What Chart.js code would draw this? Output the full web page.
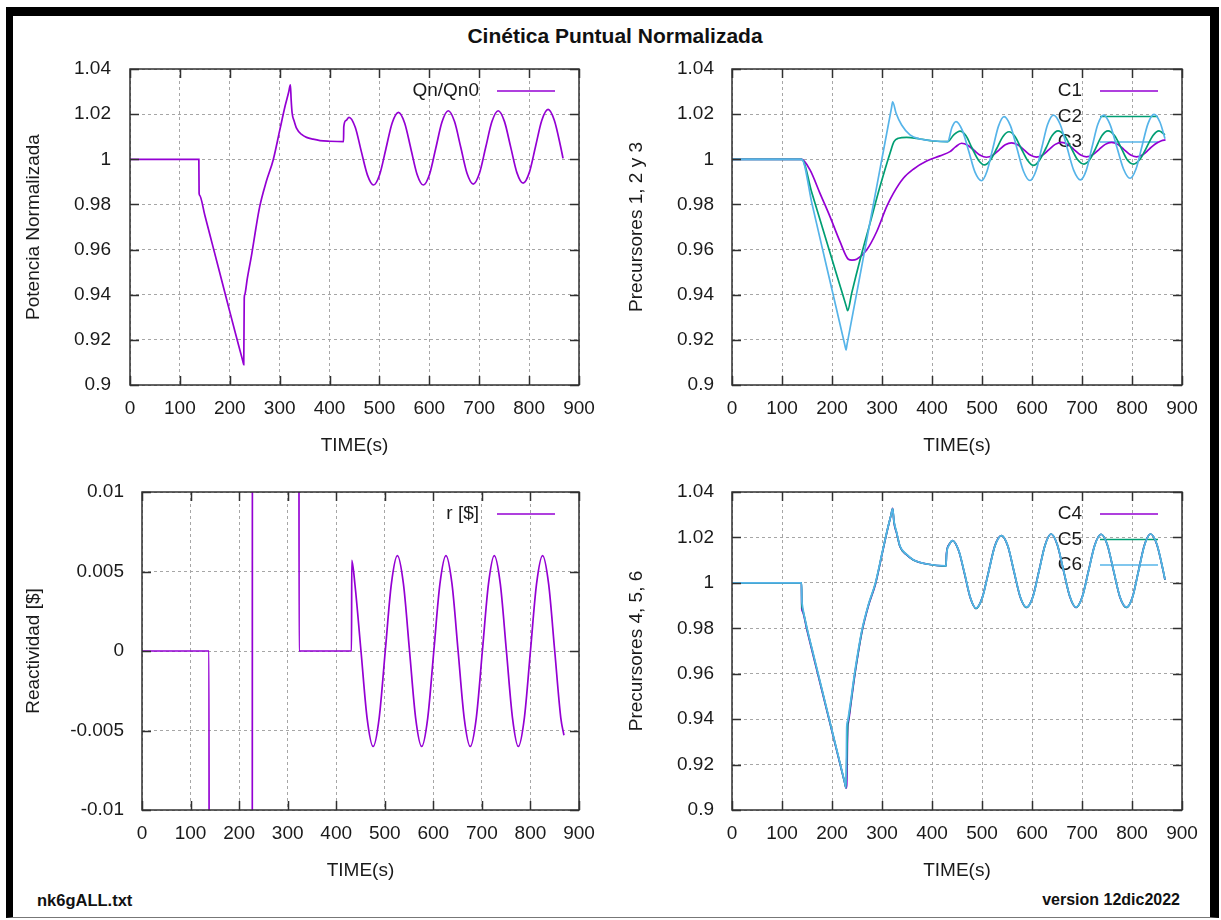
<!DOCTYPE html>
<html>
<head>
<meta charset="utf-8">
<title>Cinética Puntual Normalizada</title>
<script src="https://cdn.jsdelivr.net/npm/chart.js@4.4.1/dist/chart.umd.min.js"></script>
<style>
  body { margin: 0; background: #fff; font-family: "Liberation Sans", Arial, sans-serif; }
  #page { position: relative; width: 1221px; height: 920px; overflow: hidden; background: #fff; }
  #frame { position: absolute; left: 6px; top: 7px; width: 1197px; height: 901px;
           border-top: 9px solid #000; border-left: 7px solid #000; border-right: 9px solid #000; border-bottom: 1px solid #777; }
  .txt { position: absolute; color: #111; white-space: nowrap; }
  #title { left: 0; width: 1230px; top: 25px; text-align: center; font-size: 21px; font-weight: bold; line-height: 22px; }
  #fileName { left: 37px; top: 890px; font-size: 16.5px; font-weight: bold; line-height: 20px; }
  #version { right: 41px; top: 890px; font-size: 16px; font-weight: bold; line-height: 20px; }
  canvas { position: absolute; }
</style>
</head>
<body>
<div id="page">
  <div id="frame"></div>
  <div class="txt" id="title">Cinética Puntual Normalizada</div>
  <canvas id="power" width="596" height="410" style="left:14px;top:55px"></canvas>
  <canvas id="prec123" width="596" height="410" style="left:614px;top:55px"></canvas>
  <canvas id="react" width="596" height="412" style="left:14px;top:478px"></canvas>
  <canvas id="prec456" width="596" height="412" style="left:614px;top:478px"></canvas>
  <div class="txt" id="fileName">nk6gALL.txt</div>
  <div class="txt" id="version">version 12dic2022</div>
</div>
<script>
// --- data (time in s) ---
const qnTime = [0, 138, 138.5, 139.5, 150, 165, 180, 195, 210, 226, 228, 229, 230, 235, 244, 252, 260, 273, 287, 300, 311, 318, 321.5, 323, 325, 329, 334, 344, 354, 367, 381, 400, 428, 428.5, 433, 439, 451.5, 463.5, 476, 488, 500.5, 513, 525.5, 538, 550.5, 563, 575.5, 588, 600.5, 613, 625.5, 638, 650.5, 663, 675.5, 688, 700.5, 713, 725.5, 738, 750.5, 763, 775.5, 788, 800.5, 813, 825.5, 838, 850.5, 863, 868];
const qnValue = [1, 1, 0.985, 0.9841, 0.9752, 0.9624, 0.9496, 0.9368, 0.924, 0.9107, 0.909, 0.9385, 0.94, 0.947, 0.958, 0.969, 0.979, 0.990, 0.9997, 1.0127, 1.0237, 1.0297, 1.033, 1.0265, 1.0205, 1.017, 1.0137, 1.011, 1.0097, 1.0089, 1.0083, 1.008, 1.0078, 1.0144, 1.0172, 1.0186, 1.0142, 1.0036, 0.993, 0.9886, 0.9933, 1.0047, 1.0161, 1.0208, 1.0161, 1.0047, 0.9933, 0.9886, 0.9934, 1.005, 1.0166, 1.0215, 1.0167, 1.0053, 0.9938, 0.989, 0.9938, 1.0053, 1.0167, 1.0215, 1.0168, 1.0055, 0.9941, 0.9894, 0.9942, 1.0058, 1.0173, 1.0221, 1.0173, 1.0058, 1.0004];

const c1Time = [0, 139.3, 156, 176, 196, 216, 232.7, 240, 249.3, 269.3, 289.3, 309.3, 322.7, 342.7, 362.7, 389.3, 416, 436, 447, 459, 471.5, 484, 496.5, 509, 521.5, 534, 546.5, 559, 571.5, 584, 596.5, 609, 621.5, 634, 646.5, 659, 671.5, 684, 696.5, 709, 721.5, 734, 746.5, 759, 771.5, 784, 796.5, 809, 821.5, 834, 846.5, 859, 867];
const c1Value = [1, 1, 0.9953, 0.9849, 0.9746, 0.9635, 0.9557, 0.9553, 0.9557, 0.9598, 0.9679, 0.979, 0.9849, 0.9916, 0.9956, 0.9992, 1.0015, 1.0034, 1.0055, 1.0071, 1.0062, 1.004, 1.0018, 1.0009, 1.0018, 1.0041, 1.0064, 1.0073, 1.0064, 1.0042, 1.0019, 1.001, 1.0019, 1.0043, 1.0066, 1.0075, 1.0066, 1.0043, 1.002, 1.0011, 1.002, 1.0043, 1.0066, 1.0075, 1.0066, 1.0043, 1.002, 1.0011, 1.002, 1.0044, 1.0068, 1.0082, 1.0086];

const c2Time = [0, 139.3, 160, 180, 200, 215, 229, 231.3, 239.3, 256, 276, 296, 316, 324, 332.7, 349.3, 376, 402.7, 431.3, 443, 456, 468, 480, 493, 505, 517, 530, 542, 554, 566, 578, 591, 603, 615, 628, 640, 652, 665, 678, 691, 704, 716, 728, 740, 752, 765, 778, 790, 803, 816, 829, 842, 854, 866];
const c2Value = [1, 1, 0.9849, 0.9703, 0.9557, 0.9448, 0.9345, 0.9329, 0.9406, 0.9554, 0.9716, 0.9879, 1.0027, 1.0078, 1.0093, 1.0097, 1.009, 1.0081, 1.0078, 1.0107, 1.0125, 1.0104, 1.005, 0.9996, 0.9975, 0.9997, 1.005, 1.0101, 1.0122, 1.0101, 1.005, 0.9996, 0.9973, 0.9996, 1.005, 1.0104, 1.0126, 1.0105, 1.0052, 0.9999, 0.9979, 1.0, 1.0052, 1.0105, 1.0126, 1.0105, 1.0052, 0.9999, 0.9979, 1.0, 1.0052, 1.0105, 1.0126, 1.0108];

const c3Time = [0, 139.3, 160, 180, 200, 226, 228, 230, 250, 275, 300, 319, 321.3, 328, 339.3, 356, 376, 402.7, 431.3, 440, 448, 460.5, 473.5, 486, 499, 510, 521.5, 533, 544, 557, 570, 583, 596, 608, 619.5, 631, 643, 656.5, 670, 683.5, 697, 708.5, 720, 731.5, 743, 756, 769.5, 783, 796, 808, 820, 832, 844, 856, 866];
const c3Value = [1, 1, 0.9803, 0.9612, 0.9422, 0.9174, 0.9155, 0.9179, 0.9414, 0.9709, 1.0004, 1.0228, 1.0255, 1.0205, 1.0152, 1.0108, 1.009, 1.0082, 1.0078, 1.0142, 1.0167, 1.0129, 1.0036, 0.9943, 0.9905, 0.9947, 1.0047, 1.0147, 1.0189, 1.0148, 1.0048, 0.9947, 0.9906, 0.9949, 1.0051, 1.0153, 1.0196, 1.0154, 1.0053, 0.9951, 0.9909, 0.9951, 1.0053, 1.0154, 1.0196, 1.0155, 1.0056, 0.9957, 0.9916, 0.9957, 1.0058, 1.0158, 1.0199, 1.0164, 1.0091];

// reactivity in dollars; the 138-323 s ramp values run off the axis range
const rTime = [0, 138, 138.5, 227, 227.5, 323, 323.5, 431.5, 432, 438.5, 451, 463.5, 476, 488.5, 501, 513.5, 526, 538.5, 551, 563.5, 576, 588.5, 601, 613.5, 626, 638.5, 651, 663.5, 676, 688.5, 701, 713.5, 725.5, 738, 750.5, 763, 775, 787.5, 800, 812.5, 825, 837.5, 850, 862.5, 869];
const rValue = [0, 0, -0.03, -0.03, 0.03, 0.03, 0, 0, 0.0057, 0.0042, 0, -0.0042, -0.006, -0.0042, 0, 0.0042, 0.006, 0.0042, 0, -0.0042, -0.006, -0.0042, 0, 0.0042, 0.006, 0.0042, 0, -0.0042, -0.006, -0.0042, 0, 0.0042, 0.006, 0.0042, 0, -0.0042, -0.006, -0.0042, 0, 0.0042, 0.006, 0.0042, 0, -0.0042, -0.0053];

const t456 = [0, 139, 139.5, 140.5, 150, 165, 180, 195, 210, 226, 228, 229.5, 231.5, 232.5, 238, 244, 252, 260, 273, 287, 300, 311, 318, 321.3, 324, 329.3, 336, 349.3, 362.7, 389.3, 428, 429, 434, 441, 453.5, 465, 476.5, 488, 500.5, 513, 526, 539, 551.5, 564, 576.5, 589, 601.5, 614, 626, 638, 650.5, 663, 675.5, 688, 700.5, 713, 725.5, 738, 750.5, 763, 776, 789, 801, 813, 825, 837, 849.5, 862, 866];
const c4Value = [1, 1, 0.9885, 0.9876, 0.9791, 0.9657, 0.9524, 0.939, 0.9256, 0.9114, 0.9096, 0.911, 0.9367, 0.9383, 0.947, 0.957, 0.9685, 0.9785, 0.99, 0.9995, 1.0125, 1.0235, 1.0298, 1.0328, 1.0265, 1.0218, 1.0159, 1.0123, 1.0101, 1.0083, 1.0074, 1.013, 1.0168, 1.0186, 1.014, 1.004, 0.9935, 0.9888, 0.9935, 1.0048, 1.0165, 1.0208, 1.0162, 1.0049, 0.9937, 0.9892, 0.9938, 1.0053, 1.0166, 1.0215, 1.0168, 1.0054, 0.994, 0.9892, 0.9939, 1.0053, 1.0167, 1.0214, 1.0168, 1.0054, 0.9936, 0.9892, 0.9938, 1.0053, 1.0168, 1.0215, 1.017, 1.0056, 1.0013];
const c5Value = [1, 1, 0.9905, 0.9888, 0.9797, 0.9662, 0.9528, 0.9393, 0.9259, 0.9115, 0.9097, 0.922, 0.9378, 0.9393, 0.9478, 0.9576, 0.969, 0.9789, 0.9903, 0.9998, 1.0127, 1.0236, 1.0298, 1.0327, 1.0268, 1.022, 1.016, 1.0124, 1.0101, 1.0083, 1.0074, 1.0126, 1.0167, 1.0186, 1.0141, 1.0042, 0.9936, 0.9888, 0.9934, 1.0047, 1.0164, 1.0208, 1.0163, 1.005, 0.9938, 0.9892, 0.9937, 1.0052, 1.0165, 1.0215, 1.0169, 1.0055, 0.9941, 0.9892, 0.9938, 1.0052, 1.0166, 1.0214, 1.0169, 1.0055, 0.9937, 0.9892, 0.9937, 1.0052, 1.0167, 1.0215, 1.0171, 1.0057, 1.0014];
const c6Value = [1, 1, 0.993, 0.9905, 0.9802, 0.9666, 0.9531, 0.9396, 0.9261, 0.9117, 0.9098, 0.9367, 0.9392, 0.9407, 0.9488, 0.9585, 0.9697, 0.9794, 0.9906, 1.0001, 1.0129, 1.0237, 1.0298, 1.0326, 1.0272, 1.0222, 1.0162, 1.0125, 1.0102, 1.0083, 1.0075, 1.0122, 1.0165, 1.0186, 1.0142, 1.0044, 0.9937, 0.9889, 0.9933, 1.0046, 1.0163, 1.0208, 1.0164, 1.0051, 0.9939, 0.9893, 0.9936, 1.0051, 1.0164, 1.0215, 1.017, 1.0056, 0.9942, 0.9893, 0.9937, 1.0051, 1.0165, 1.0214, 1.017, 1.0056, 0.9938, 0.9893, 0.9936, 1.0051, 1.0166, 1.0215, 1.0172, 1.0058, 1.0015];

const PURPLE = '#9400d3', GREEN = '#009e73', CYAN = '#56b4e9';
const TEXT = '#1a1a1a';
const TICK_LEN = 9;

Chart.defaults.font.family = '"Liberation Sans", Arial, sans-serif';
Chart.defaults.font.size = 19;
Chart.defaults.color = TEXT;

// box border + inward ticks on all four sides
const borderTicks = {
  id: 'borderTicks',
  afterDatasetsDraw(chart) {
    const { ctx, chartArea: a, scales: { x, y } } = chart;
    ctx.save();
    ctx.strokeStyle = '#303030';
    ctx.lineWidth = 1.5;
    ctx.beginPath();
    x.ticks.forEach(t => {
      const px = Math.round(x.getPixelForValue(t.value)) + 0.5;
      ctx.moveTo(px, a.bottom); ctx.lineTo(px, a.bottom - TICK_LEN);
      ctx.moveTo(px, a.top); ctx.lineTo(px, a.top + TICK_LEN);
    });
    y.ticks.forEach(t => {
      const py = Math.round(y.getPixelForValue(t.value)) + 0.5;
      ctx.moveTo(a.left, py); ctx.lineTo(a.left + TICK_LEN, py);
      ctx.moveTo(a.right, py); ctx.lineTo(a.right - TICK_LEN, py);
    });
    ctx.stroke();
    ctx.strokeRect(a.left, a.top, a.right - a.left, a.bottom - a.top);
    ctx.restore();
  }
};

// key in the top right corner: label text, then a line sample
const cornerKey = {
  id: 'cornerKey',
  beforeDatasetsDraw(chart) {
    const { ctx, chartArea: a } = chart;
    ctx.save();
    ctx.font = '19px "Liberation Sans", Arial, sans-serif';
    ctx.textAlign = 'right';
    ctx.textBaseline = 'middle';
    chart.data.datasets.forEach((ds, i) => {
      const yy = a.top + 22 + i * 25.5;
      ctx.fillStyle = TEXT;
      ctx.fillText(ds.label, a.right - 100, yy);
      ctx.strokeStyle = ds.borderColor;
      ctx.lineWidth = 1.6;
      ctx.beginPath();
      ctx.moveTo(a.right - 82, yy);
      ctx.lineTo(a.right - 24, yy);
      ctx.stroke();
    });
    ctx.restore();
  }
};

// later series are drawn on top, like the plot order
function series(label, times, values, color, idx) {
  return {
    label,
    data: times.map((t, i) => ({ x: t, y: values[i] })),
    borderColor: color,
    borderWidth: 1.7,
    pointRadius: 0,
    cubicInterpolationMode: 'monotone',
    capBezierPoints: false,
    fill: false,
    order: -(idx || 0)
  };
}

function plot(id, datasets, opt) {
  new Chart(document.getElementById(id), {
    type: 'line',
    data: { datasets },
    options: {
      responsive: false,
      animation: false,
      devicePixelRatio: 1,
      layout: { padding: { left: 0, top: 14, right: opt.padRight, bottom: 0 } },
      plugins: { legend: { display: false }, tooltip: { enabled: false } },
      scales: {
        x: {
          type: 'linear', min: 0, max: 900,
          ticks: { stepSize: 100, padding: 12, maxRotation: 0, autoSkip: false },
          grid: { color: '#a6a6a6', lineWidth: 1, drawTicks: false },
          border: { display: false, dash: [3, 3] },
          title: { display: true, text: 'TIME(s)', padding: { top: 0, bottom: 8 } },
          afterFit(s) { s.height = 80; s.paddingLeft = 0; s.paddingRight = 0; }
        },
        y: {
          type: 'linear', min: opt.yMin, max: opt.yMax,
          ticks: { stepSize: opt.yStep, padding: opt.tickPad, callback: v => String(+v.toFixed(4)) },
          grid: { color: '#a6a6a6', lineWidth: 1, drawTicks: false },
          border: { display: false, dash: [3, 3] },
          title: { display: true, text: opt.yTitle, padding: { top: opt.titlePad, bottom: 0 } },
          afterFit(s) { s.width = opt.yWidth; s.paddingTop = 0; s.paddingBottom = 0; }
        }
      }
    },
    plugins: [cornerKey, borderTicks]
  });
}

plot('power', [series('Qn/Qn0', qnTime, qnValue, PURPLE)],
  { yMin: 0.9, yMax: 1.04, yStep: 0.02, yTitle: 'Potencia Normalizada', yWidth: 116, tickPad: 19, titlePad: 8, padRight: 31 });

plot('prec123', [
    series('C1', c1Time, c1Value, PURPLE, 0),
    series('C2', c2Time, c2Value, GREEN, 1),
    series('C3', c3Time, c3Value, CYAN, 2)
  ],
  { yMin: 0.9, yMax: 1.04, yStep: 0.02, yTitle: 'Precursores 1, 2 y 3', yWidth: 118, tickPad: 18, titlePad: 11, padRight: 28 });

plot('react', [series('r [$]', rTime, rValue, PURPLE)],
  { yMin: -0.01, yMax: 0.01, yStep: 0.005, yTitle: 'Reactividad [$]', yWidth: 128, tickPad: 18, titlePad: 8, padRight: 31 });

plot('prec456', [
    series('C4', t456, c4Value, PURPLE, 0),
    series('C5', t456, c5Value, GREEN, 1),
    series('C6', t456, c6Value, CYAN, 2)
  ],
  { yMin: 0.9, yMax: 1.04, yStep: 0.02, yTitle: 'Precursores 4, 5, 6', yWidth: 118, tickPad: 18, titlePad: 11, padRight: 28 });
</script>
</body>
</html>
